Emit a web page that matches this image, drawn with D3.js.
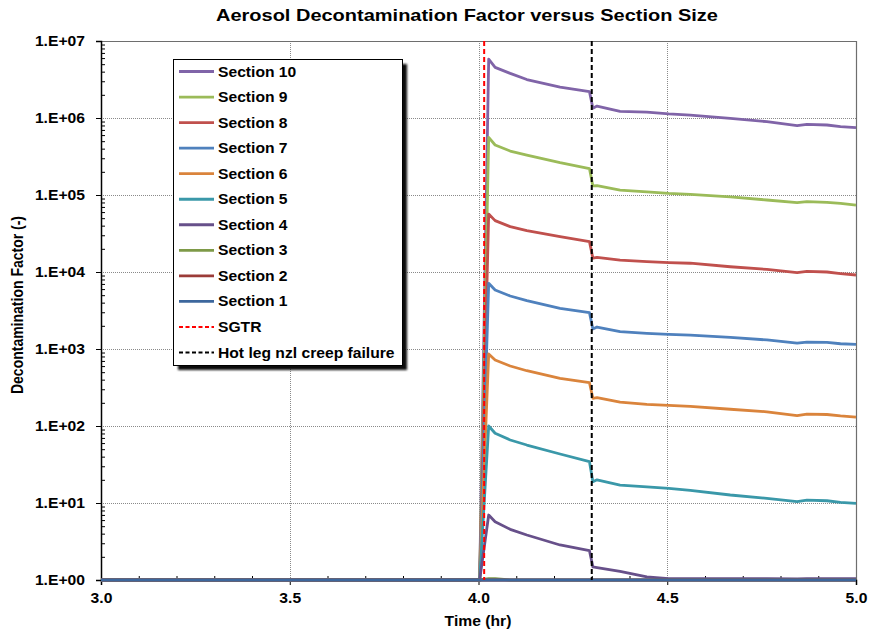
<!DOCTYPE html>
<html>
<head>
<meta charset="utf-8">
<script src="https://cdn.jsdelivr.net/npm/d3@7"></script>
<style>
  html, body { margin: 0; padding: 0; background: #fff; }
  svg { display: block; font-family: "Liberation Sans", Arial, sans-serif; }
</style>
</head>
<body>
<svg id="chart" width="870" height="634"></svg>
<script>
// Time grid (hr) shared by all sections
const times = [3.0, 4.003, 4.027, 4.044, 4.084, 4.128, 4.216, 4.294, 4.303, 4.314, 4.375,
               4.446, 4.504, 4.561, 4.667, 4.764, 4.844, 4.87, 4.923, 4.959, 5.0];

// Aerosol decontamination factor (-) per section at the times above
const section10 = [1, 1, 5.8e6, 4.55e6, 3.8e6, 3.16e6, 2.51e6, 2.2e6, 1.34e6, 1.43e6, 1.22e6,
                   1.19e6, 1.13e6, 1.09e6, 9.9e5, 8.95e5, 7.94e5, 8.28e5, 8.11e5, 7.71e5, 7.48e5];
const section9  = [1, 1, 5.61e5, 4.46e5, 3.72e5, 3.3e5, 2.63e5, 2.2e5, 1.31e5, 1.32e5, 1.16e5,
                   1.1e5, 1.05e5, 1.02e5, 9.44e4, 8.61e4, 7.94e4, 8.18e4, 8.04e4, 7.8e4, 7.41e4];
const section8  = [1, 1, 5.66e4, 4.65e4, 3.88e4, 3.44e4, 2.87e4, 2.48e4, 1.51e4, 1.55e4, 1.43e4,
                   1.36e4, 1.32e4, 1.3e4, 1.17e4, 1.08e4, 9.8e3, 1.02e4, 1.0e4, 9.55e3, 9.14e3];
const section7  = [1, 1, 7.13e3, 5.83e3, 4.88e3, 4.24e3, 3.37e3, 2.96e3, 1.82e3, 1.93e3, 1.68e3,
                   1.6e3, 1.55e3, 1.51e3, 1.42e3, 1.31e3, 1.19e3, 1.23e3, 1.22e3, 1.17e3, 1.15e3];
const section6  = [1, 1, 861, 719, 601, 522, 416, 365, 229, 234, 204,
                   191, 185, 180, 165, 153, 136, 143, 141, 135, 130];
const section5  = [1, 1, 100, 80.4, 65.8, 56.6, 43.3, 34.4, 18.9, 20.0, 17.1,
                   16.2, 15.5, 14.6, 12.7, 11.5, 10.4, 10.9, 10.7, 10.2, 9.9];
const section4  = [1, 1, 6.98, 5.71, 4.55, 3.84, 2.85, 2.4, 1.48, 1.45, 1.29,
                   1.1, 1.04, 1.04, 1.04, 1.04, 1.03, 1.04, 1.04, 1.04, 1.04];
const section3  = [1, 1, 1.04, 1.04, 1.0, 1, 1, 1, 1, 1, 1,
                   1, 1, 1, 1, 1, 1, 1, 1, 1, 1];
const section2  = [1, 1, 1, 1, 1, 1, 1, 1, 1, 1, 1,
                   1, 1, 1, 1, 1, 1, 1, 1, 1, 1];
const section1  = [1, 1, 1, 1, 1, 1, 1, 1, 1, 1, 1,
                   1, 1, 1, 1, 1, 1, 1, 1, 1, 1];

const seriesNames  = ["Section 10", "Section 9", "Section 8", "Section 7", "Section 6",
                      "Section 5", "Section 4", "Section 3", "Section 2", "Section 1"];
const seriesValues = [section10, section9, section8, section7, section6,
                      section5, section4, section3, section2, section1];
const seriesColors = ["#8064a8", "#9bbb59", "#c0504d", "#4f81bd", "#da843c",
                      "#3a98a9", "#67508a", "#7e9a48", "#9b3b38", "#3d679d"];

// Event markers (hr)
const eventNames  = ["SGTR", "Hot leg nzl creep failure"];
const eventTimes  = [4.015, 4.3];
const eventColors = ["#ff0000", "#000000"];

// Axis ticks
const xTicks = [3.0, 3.5, 4.0, 4.5, 5.0];
const yTicks = [1, 1e1, 1e2, 1e3, 1e4, 1e5, 1e6, 1e7];
const yTickLabels = ["1.E+00", "1.E+01", "1.E+02", "1.E+03", "1.E+04", "1.E+05", "1.E+06", "1.E+07"];

const titleText = "Aerosol Decontamination Factor versus Section Size";
const xTitle = "Time (hr)";
const yTitle = "Decontamination Factor (-)";

// ---- layout ----
const svg = d3.select("#chart");
const plotL = 101, plotR = 856, plotT = 41, plotB = 580;
const wide = 1.12;   // horizontal widening of the bold labels

const x = d3.scaleLinear().domain([3, 5]).range([plotL, plotR]);
const y = d3.scaleLog().domain([1, 1e7]).range([plotB, plotT]);

// gridlines
const grid = svg.append("g").attr("stroke", "#8a8a8a").attr("stroke-width", 1)
  .attr("stroke-dasharray", "1,1").attr("shape-rendering", "crispEdges");
grid.selectAll("line.h").data(yTicks.slice(1, -1)).join("line").attr("class", "h")
  .attr("x1", plotL).attr("x2", plotR)
  .attr("y1", d => Math.round(y(d)) + 0.5).attr("y2", d => Math.round(y(d)) + 0.5);
grid.selectAll("line.v").data(xTicks.slice(1, -1)).join("line").attr("class", "v")
  .attr("y1", plotT).attr("y2", plotB)
  .attr("x1", d => Math.round(x(d)) + 0.5).attr("x2", d => Math.round(x(d)) + 0.5);

// plot frame (top / right)
svg.append("path")
  .attr("d", `M${plotL},${plotT + 0.5}H${plotR + 0.5}V${plotB}`)
  .attr("fill", "none").attr("stroke", "#6e6e6e").attr("stroke-width", 1.2);

// minor ticks (inside)
const yMinor = [];
for (let k = 0; k < 7; k++) for (let m = 2; m <= 9; m++) yMinor.push(m * Math.pow(10, k));
const xMinor = d3.range(30, 51).map(d => d / 10).filter(d => Math.abs(d * 2 - Math.round(d * 2)) > 1e-6);

svg.append("g").attr("transform", `translate(${plotL},0)`)
  .call(d3.axisLeft(y).tickValues(yMinor).tickSize(-4).tickFormat(""))
  .call(g => g.select(".domain").remove())
  .call(g => g.selectAll("line").attr("stroke", "#000"));
svg.append("g").attr("transform", `translate(0,${plotB})`)
  .call(d3.axisBottom(x).tickValues(xMinor).tickSize(-4).tickFormat(""))
  .call(g => g.select(".domain").remove())
  .call(g => g.selectAll("line").attr("stroke", "#000"));

// major axes
svg.append("g").attr("transform", `translate(${plotL},0)`)
  .call(d3.axisLeft(y).tickValues(yTicks).tickSize(5).tickPadding(11)
    .tickFormat((d, i) => yTickLabels[i]))
  .call(g => g.select(".domain").attr("stroke", "#000").attr("stroke-width", 1.5))
  .call(g => g.selectAll("text").attr("font-size", 14).attr("font-weight", "bold")
    .attr("font-family", "'Liberation Sans', Arial, sans-serif").attr("fill", "#000")
    .attr("x", -16 / wide).attr("transform", `scale(${wide},1)`));
svg.append("g").attr("transform", `translate(0,${plotB})`)
  .call(d3.axisBottom(x).tickValues(xTicks).tickSize(5).tickPadding(8)
    .tickFormat(d3.format(".1f")))
  .call(g => g.select(".domain").attr("stroke", "#000").attr("stroke-width", 1.5))
  .call(g => g.selectAll("text").attr("font-size", 14).attr("font-weight", "bold")
    .attr("font-family", "'Liberation Sans', Arial, sans-serif").attr("fill", "#000")
    .attr("transform", `scale(${wide},1)`));

// series, Section 10 first so Section 1 ends up on top
const line = d3.line().x((d, i) => x(times[i])).y(d => y(d));
const plot = svg.append("g");
seriesValues.forEach((vals, s) => {
  plot.append("path").datum(vals)
    .attr("d", line)
    .attr("fill", "none")
    .attr("stroke", seriesColors[s])
    .attr("stroke-width", 2.8)
    .attr("stroke-linejoin", "round");
});

// event markers
eventTimes.forEach((t, i) => {
  svg.append("line")
    .attr("x1", x(t)).attr("x2", x(t)).attr("y1", plotT).attr("y2", plotB)
    .attr("stroke", eventColors[i]).attr("stroke-width", 2)
    .attr("stroke-dasharray", "5,3");
});

// titles
svg.append("text").attr("x", 467).attr("y", 21).attr("text-anchor", "middle")
  .attr("font-size", 17).attr("font-weight", "bold")
  .attr("textLength", 502).attr("lengthAdjust", "spacingAndGlyphs").text(titleText);
svg.append("text").attr("transform", `translate(478,626) scale(${wide},1)`)
  .attr("text-anchor", "middle").attr("font-size", 14).attr("font-weight", "bold").text(xTitle);
svg.append("text").attr("transform", `translate(23,305) rotate(-90) scale(1,${wide})`)
  .attr("text-anchor", "middle").attr("font-size", 14).attr("font-weight", "bold").text(yTitle);

// legend
const defs = svg.append("defs");
defs.append("filter").attr("id", "soft").attr("x", "-10%").attr("y", "-10%")
  .attr("width", "120%").attr("height", "120%")
  .append("feGaussianBlur").attr("stdDeviation", 1);

const lg = { x: 173, y: 59, w: 229, h: 306 };
svg.append("rect").attr("x", lg.x + 5).attr("y", lg.y + 5).attr("width", lg.w).attr("height", lg.h)
  .attr("fill", "#111").attr("filter", "url(#soft)");
svg.append("rect").attr("x", lg.x + 0.5).attr("y", lg.y + 0.5).attr("width", lg.w).attr("height", lg.h)
  .attr("fill", "#fff").attr("stroke", "#000").attr("stroke-width", 1);

const legendItems = seriesNames.map((n, i) => ({ name: n, color: seriesColors[i], dash: null, w: 2.8 }))
  .concat(eventNames.map((n, i) => ({ name: n, color: eventColors[i], dash: "4,2.5", w: 2 })));
const rowY = d3.scaleLinear().domain([0, legendItems.length - 1]).range([71.5, 352.5]);
const items = svg.append("g").selectAll("g").data(legendItems).join("g")
  .attr("transform", (d, i) => `translate(0,${rowY(i)})`);
items.append("line").attr("x1", 179).attr("x2", 214).attr("y1", 0).attr("y2", 0)
  .attr("stroke", d => d.color).attr("stroke-width", d => d.w)
  .attr("stroke-dasharray", d => d.dash);
items.append("text").attr("transform", "translate(218,5) scale(1.08,1)")
  .attr("font-size", 14.5).attr("font-weight", "bold")
  .text(d => d.name);
</script>
</body>
</html>
